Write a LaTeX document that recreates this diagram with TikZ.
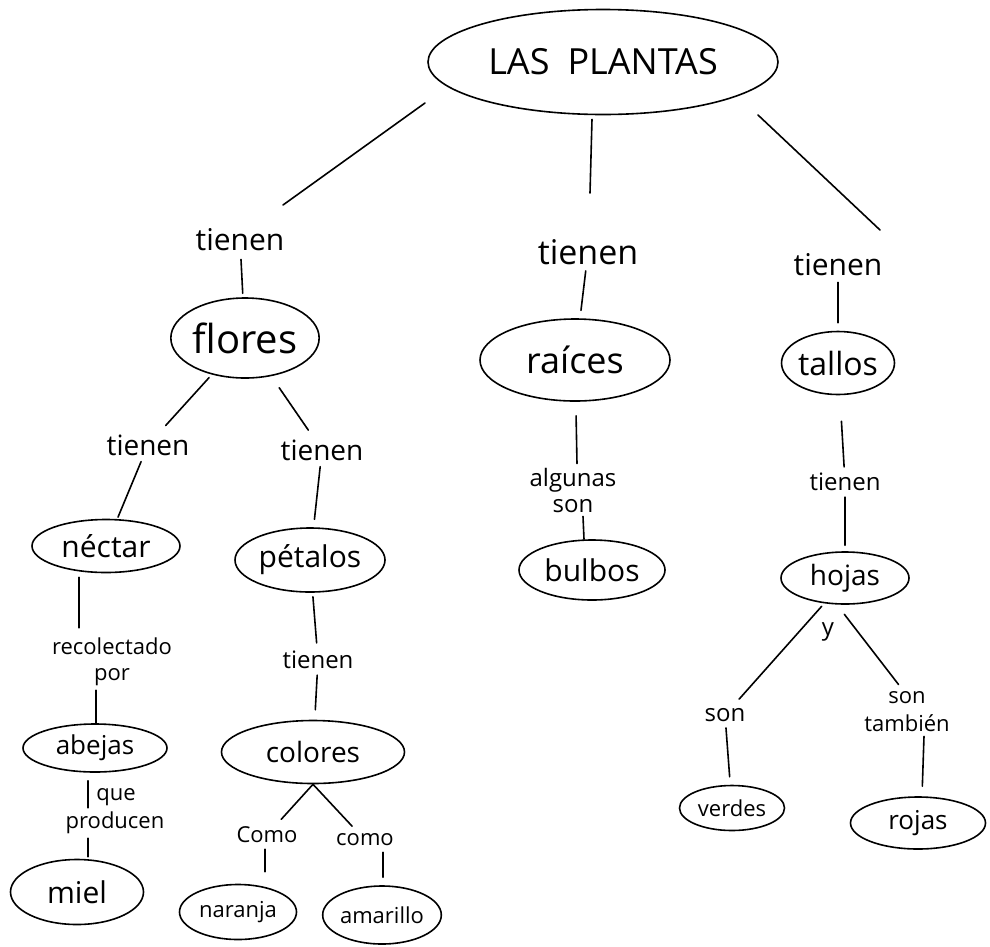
\documentclass[tikz,border=0pt]{standalone}
\usepackage{fontspec}
\setmainfont{Open Sans}
\usetikzlibrary{shapes.geometric}
\tikzset{
  ell/.style={ellipse, draw, line width=1.6pt, inner sep=0pt},
  lab/.style={inner sep=6pt, align=center},
  con/.style={line width=1.6pt, line cap=round},
}
\newcommand{\fs}[1]{\fontsize{#1}{#1}\selectfont}
\begin{document}
\begin{tikzpicture}[x=1pt,y=-1pt]
\useasboundingbox (0,0) rectangle (990,946);
\fill[white] (0,0) rectangle (990,946);
% root
\node[ell, minimum width=350, minimum height=105, font=\fs{36}] (root) at (603,62) {LAS\enspace PLANTAS};
% left branch
\node[lab, font=\fs{30}] (t1) at (240,240) {tienen};
\node[ell, minimum width=146, minimum height=80, font=\fs{40}] (flores) at (245,338) {flores};
\node[lab, font=\fs{28}] (t2) at (148,445) {tienen};
\node[lab, font=\fs{28}] (t3) at (322,450) {tienen};
\node[ell, minimum width=148, minimum height=53, font=\fs{30}] (nectar) at (106,546) {néctar};
\node[ell, minimum width=150, minimum height=64, font=\fs{30}] (petalos) at (310,560) {pétalos};
\node[lab, font=\fs{22}, inner sep=4pt] (rec) at (112,662) {recolectado\\[4pt]por};
\node[ell, minimum width=144, minimum height=48, font=\fs{26}] (abejas) at (95,748) {abejas};
\node[lab, font=\fs{22}, inner sep=2pt] (que) at (116,797) {que};
\node[lab, font=\fs{22}, inner sep=4pt] (prod) at (115,823) {producen};
\node[ell, minimum width=133, minimum height=65, font=\fs{30}] (miel) at (77,892) {miel};
\node[lab, font=\fs{24}] (t4) at (318,660) {tienen};
\node[ell, minimum width=183, minimum height=63, font=\fs{28}] (colores) at (313,752) {colores};
\node[lab, font=\fs{22}] (como1) at (267,835) {Como};
\node[lab, font=\fs{22}] (como2) at (365,840) {como};
\node[ell, minimum width=117, minimum height=55, font=\fs{22}] (naranja) at (238,912) {naranja};
\node[ell, minimum width=117, minimum height=58, font=\fs{22}] (amarillo) at (382,915) {amarillo};
% middle branch
\node[lab, font=\fs{34}] (t5) at (588,252) {tienen};
\node[ell, minimum width=190, minimum height=82, font=\fs{36}] (raices) at (575,360) {raíces};
\node[lab, font=\fs{24}, inner sep=4pt] (alg) at (573,490) {algunas\\[2pt]son};
\node[ell, minimum width=146, minimum height=60, font=\fs{30}] (bulbos) at (592,570) {bulbos};
% right branch
\node[lab, font=\fs{30}] (t6) at (838,265) {tienen};
\node[ell, minimum width=110, minimum height=63, font=\fs{32}] (tallos) at (838,363) {tallos};
\node[lab, font=\fs{24}] (t7) at (845,482) {tienen};
\node[ell, minimum width=128, minimum height=52, font=\fs{28}] (hojas) at (845,578) {hojas};
\node[lab, font=\fs{24}, inner sep=2pt] (y) at (828,632) {y};
\node[lab, font=\fs{24}] (son1) at (725,715) {son};
\node[lab, font=\fs{22}, inner sep=4pt] (son2) at (907,712) {son\\[6pt]también};
\node[ell, minimum width=105, minimum height=45, font=\fs{22}] (verdes) at (732,808) {verdes};
\node[ell, minimum width=135, minimum height=52, font=\fs{26}] (rojas) at (918,823) {rojas};
% connectors
\draw[con] ([xshift=-178pt,yshift=-41pt]root.center) -- ([xshift=43pt,yshift=35pt]t1.center);
\draw[con] ([xshift=-11pt,yshift=-4pt]root.south) -- ([xshift=2pt,yshift=59pt]t5.center);
\draw[con] ([xshift=155pt,yshift=-53pt]root.center) -- ([xshift=42pt,yshift=35pt]t6.center);
\draw[con, shorten <=2pt, shorten >=4pt] (t1) -- (flores);
\draw[con, shorten <=4pt, shorten >=4pt] (flores) -- (t2);
\draw[con, shorten <=14pt, shorten >=4pt] (flores) -- (t3);
\draw[con, shorten >=2pt] (t2) -- (nectar);
\draw[con, shorten >=8pt] (t3) -- (petalos);
\draw[con, shorten <=4pt, shorten >=6pt] ([xshift=-27pt]nectar.south) -- ([xshift=-33pt]rec.north);
\draw[con] ([xshift=-16pt]rec.south) -- ([xshift=1pt]abejas.north);
\draw[con, shorten <=8pt] ([xshift=-7pt]abejas.south) -- ([xshift=-27pt]prod.north);
\draw[con, shorten >=2pt] ([xshift=-27pt]prod.south) -- ([xshift=11pt]miel.north);
\draw[con, shorten <=4pt, shorten >=2pt] (petalos) -- (t4);
\draw[con, shorten >=10pt] (t4) -- (colores);
\draw[con, shorten >=2pt] (colores.south) -- (como1);
\draw[con, shorten >=2pt] (colores.south) -- (como2);
\draw[con, shorten >=12pt] ([xshift=-2pt]como1.south) -- ([xshift=-2pt]como1.south |- naranja.north);
\draw[con, shorten >=8pt] ([xshift=18pt]como2.south) -- ([xshift=1pt]amarillo.north);
\draw[con, shorten >=8pt] (t5) -- (raices);
\draw[con, shorten <=14pt] (raices) -- ([xshift=4pt]alg.north);
\draw[con] ([xshift=10pt]alg.south) -- ([xshift=-8pt]bulbos.north);
\draw[con, shorten >=8pt] (t6) -- (tallos);
\draw[con, shorten <=26pt] (tallos) -- (t7);
\draw[con, shorten >=6pt] (t7) -- (hojas);
\draw[con, shorten <=2pt, shorten >=4pt] ([xshift=-22pt]hojas.south) -- (son1);
\draw[con, shorten <=12pt, shorten >=4pt] ([xshift=-8pt]hojas.south) -- ([xshift=-6pt]son2.north);
\draw[con, shorten >=8pt] (son1) -- (verdes);
\draw[con, shorten >=10pt] ([xshift=17pt]son2.south) -- ([xshift=4pt]rojas.north);
\end{tikzpicture}
\end{document}
